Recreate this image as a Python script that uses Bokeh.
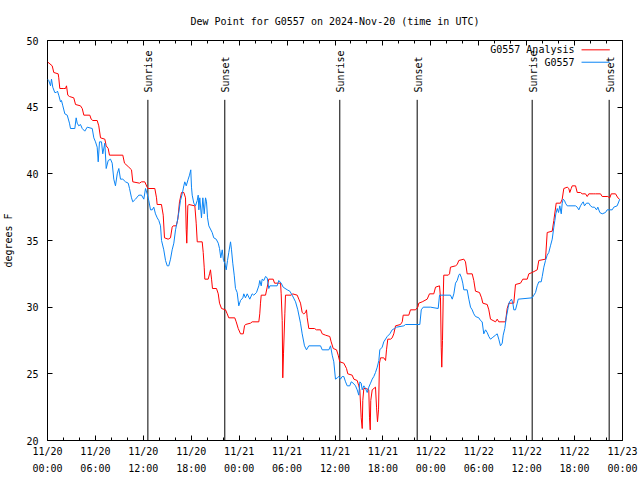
import math
from bokeh.plotting import figure
from bokeh.models import Range1d, FixedTicker, LinearAxis
from bokeh.core.properties import value
from bokeh.embed import file_html
from bokeh.resources import INLINE

# ---- data (hours since 2024-11-20 00:00 UTC, dew point in degrees F) ----
analysis_hours = [0, 0.59, 0.79, 1.34, 1.41, 1.54, 2.04, 2.25, 2.38, 2.54, 2.75, 3.29, 3.51, 4.13, 4.35, 4.55, 5.30, 5.47, 5.67, 6.22,
    6.42, 6.64, 7.18, 7.35, 7.60, 7.76, 9.43, 9.64, 10.18, 10.52, 10.68, 11.52, 11.77, 12.18, 12.48, 12.61, 13.44, 13.65, 13.73, 14.27,
    14.49, 14.65, 15.11, 15.40, 15.61, 15.74, 16.12, 16.32, 16.53, 16.78, 17.07, 17.28, 17.37, 17.44, 17.57, 17.69, 18.45, 18.62, 18.75, 19.37,
    19.50, 19.62, 19.70, 20.12, 20.29, 20.41, 20.54, 20.66, 21.16, 21.38, 21.54, 21.79, 22.29, 22.50, 22.70, 23.45, 23.63, 23.88, 24.17, 24.51,
    24.67, 24.79, 25.42, 25.63, 26.46, 26.58, 26.67, 26.76, 27.30, 27.51, 27.71, 28.26, 28.43, 29.18, 29.26, 29.39, 29.46, 29.55, 29.72, 29.80,
    30.52, 30.68, 31.27, 31.47, 31.68, 31.89, 32.09, 32.31, 32.43, 32.52, 32.72, 33.43, 33.68, 34.19, 34.40, 34.81, 35.35, 35.52, 35.78, 36.19,
    36.40, 36.60, 37.10, 37.44, 37.60, 38.15, 38.36, 38.78, 38.98, 39.11, 39.28, 39.41, 39.48, 39.61, 39.91, 40.23, 40.32, 40.41, 40.48, 40.66,
    41.07, 41.20, 41.32, 41.45, 41.57, 41.70, 42.11, 42.33, 42.45, 42.61, 42.95, 43.16, 43.36, 43.58, 44.20, 44.42, 44.54, 45.24, 45.45, 46.08,
    46.37, 46.49, 46.92, 47.54, 47.83, 48.37, 48.59, 49.09, 49.21, 49.30, 49.37, 49.46, 49.55, 49.62, 50.18, 50.34, 50.46, 51.09, 51.30, 51.50,
    52.13, 52.34, 52.55, 53.18, 53.38, 53.59, 54.09, 54.35, 54.51, 55.06, 55.26, 55.47, 56.10, 56.31, 56.51, 57.35, 57.56, 57.77, 58.39, 58.60,
    59.23, 59.52, 60.07, 60.27, 60.69, 61.32, 61.52, 62.36, 62.57, 63.20, 63.40, 63.70, 64.24, 64.45, 64.65, 65.08, 65.28, 65.40, 65.58, 65.70,
    66.12, 66.33, 66.74, 66.95, 67.37, 67.58, 67.78, 68.41, 68.62, 69.25, 69.46, 70.16, 70.41, 70.59, 71.13, 71.42, 71.63]
analysis_dewpt = [48.4, 48.1, 47.6, 47.5, 47.2, 46.4, 46.4, 46.4, 46.6, 45.9, 45.8, 45.7, 45.2, 45.1, 44.9, 44.4, 44.4, 44.1, 44.0, 44.0,
    43.6, 42.7, 42.6, 42.1, 41.9, 41.4, 41.4, 40.8, 40.5, 40.3, 39.4, 39.3, 39.4, 39.4, 39.0, 38.9, 38.9, 38.2, 37.7, 37.7,
    36.9, 35.2, 35.1, 35.2, 36.0, 36.1, 36.1, 36.6, 37.9, 38.6, 38.6, 38.2, 35.8, 34.8, 37.6, 37.7, 37.6, 36.3, 34.9, 34.9,
    34.1, 33.0, 32.1, 32.1, 32.5, 32.8, 32.1, 31.4, 31.4, 31.0, 30.3, 29.9, 29.8, 29.5, 29.2, 29.2, 28.9, 28.4, 28.0, 28.0,
    28.6, 28.7, 28.8, 28.9, 28.9, 29.5, 30.3, 30.9, 30.9, 31.5, 32.1, 32.1, 31.8, 31.8, 31.0, 29.0, 24.7, 26.5, 29.5, 30.9,
    30.9, 31.0, 30.9, 30.6, 30.3, 29.6, 29.5, 29.6, 29.8, 29.2, 28.4, 28.4, 28.3, 28.3, 28.0, 27.9, 27.8, 27.4, 26.9, 26.8,
    26.4, 25.9, 25.8, 25.4, 25.0, 24.9, 24.6, 24.5, 24.1, 23.8, 21.7, 20.9, 23.0, 23.9, 23.9, 23.8, 21.7, 20.8, 23.0, 23.8,
    24.0, 22.5, 21.4, 22.3, 25.8, 26.2, 26.2, 26.0, 26.8, 27.6, 27.6, 27.7, 28.0, 28.6, 28.7, 28.9, 29.4, 29.4, 29.8, 29.8,
    30.0, 30.3, 30.4, 30.6, 31.0, 31.0, 31.5, 31.6, 30.7, 27.0, 25.5, 27.5, 30.7, 32.4, 32.4, 32.5, 33.0, 33.1, 33.2, 33.5,
    33.6, 33.4, 32.5, 32.5, 32.0, 31.2, 31.1, 30.7, 30.3, 30.2, 29.8, 29.1, 28.9, 29.1, 28.9, 28.9, 29.9, 30.3, 30.3, 31.7,
    31.8, 32.1, 32.1, 32.5, 32.6, 32.8, 33.5, 33.6, 35.6, 35.7, 36.5, 37.8, 37.8, 38.1, 38.9, 39.0, 38.9, 38.6, 38.9, 39.1,
    39.1, 38.6, 38.6, 38.5, 38.5, 38.3, 38.5, 38.5, 38.5, 38.5, 38.3, 38.3, 38.2, 38.5, 38.5, 38.2, 38.1]

obs_hours = [0, 0.16, 0.38, 0.50, 0.66, 0.91, 1.09, 1.25, 1.41, 1.63, 1.75, 1.92, 2.17, 2.47, 2.75, 2.88, 3.42, 3.59, 3.72, 3.92,
    4.13, 4.35, 4.67, 4.97, 5.60, 5.80, 6.01, 6.22, 6.35, 6.51, 6.76, 6.92, 7.18, 7.35, 7.60, 7.89, 8.10, 8.30, 8.51, 8.73,
    8.93, 9.14, 9.43, 9.77, 10.11, 10.27, 10.52, 10.68, 11.02, 11.43, 11.77, 12.06, 12.27, 12.48, 12.68, 12.90, 13.11, 13.31, 13.52, 13.74,
    13.94, 14.15, 14.28, 14.56, 14.78, 14.99, 15.19, 15.40, 15.61, 15.82, 16.03, 16.24, 16.44, 16.65, 16.87, 17.07, 17.19, 17.37, 17.62, 17.78,
    17.94, 18.03, 18.12, 18.32, 18.53, 18.75, 18.87, 18.95, 19.07, 19.28, 19.45, 19.62, 19.79, 19.91, 20.04, 20.20, 20.62, 20.82, 21.12, 21.38,
    21.54, 21.70, 21.88, 22.04, 22.20, 22.38, 22.54, 22.70, 22.92, 23.04, 23.20, 23.38, 23.54, 23.75, 23.95, 24.17, 24.46, 24.58, 24.79, 25.01,
    25.33, 25.63, 25.83, 26.17, 26.46, 26.58, 26.76, 26.88, 27.09, 27.30, 27.51, 27.71, 27.84, 28.76, 28.96, 29.26, 29.51, 30.02, 30.34, 30.64,
    31.06, 31.34, 31.68, 31.89, 32.18, 32.43, 32.72, 34.19, 34.40, 35.23, 35.44, 35.65, 35.85, 36.06, 36.28, 36.48, 36.69, 36.90, 37.10, 37.32,
    37.53, 37.85, 38.03, 38.28, 38.57, 38.78, 38.98, 39.11, 39.28, 39.41, 39.61, 39.82, 40.03, 40.23, 40.45, 40.66, 40.86, 41.07, 41.29, 41.49,
    41.61, 41.91, 42.11, 42.54, 42.87, 43.16, 43.45, 43.70, 44.62, 44.83, 46.62, 46.80, 47.05, 47.96, 48.92, 49.09, 50.46, 50.68, 50.88, 51.09,
    51.30, 51.50, 51.63, 51.84, 52.00, 52.13, 52.55, 52.76, 52.97, 53.18, 53.38, 53.59, 54.01, 54.22, 54.43, 54.63, 54.85, 55.06, 55.26, 55.47,
    55.68, 56.10, 56.31, 56.51, 56.72, 56.94, 57.06, 57.26, 57.44, 57.69, 57.85, 58.10, 58.27, 58.39, 58.60, 58.82, 58.94, 60.69, 60.90, 61.11,
    61.32, 61.52, 61.82, 61.95, 62.15, 62.36, 62.57, 62.77, 62.98, 63.20, 63.40, 63.53, 63.65, 63.83, 63.99, 64.15, 64.33, 64.45, 64.58, 64.74,
    64.86, 65.08, 65.28, 66.12, 66.33, 66.53, 66.74, 66.95, 67.08, 67.24, 67.49, 67.78, 67.99, 68.21, 68.49, 68.75, 68.91, 69.16, 69.46, 69.87,
    70.08, 70.71, 70.91, 71.33, 71.66]
obs_dewpt = [47.1, 47.0, 46.6, 47.1, 46.5, 46.1, 46.1, 46.2, 45.9, 45.4, 45.5, 45.1, 44.5, 44.4, 43.8, 43.4, 43.4, 44.2, 43.8, 43.6,
    43.7, 43.4, 43.2, 43.5, 43.4, 42.7, 42.4, 42.0, 40.9, 42.4, 42.4, 41.5, 42.3, 40.4, 41.0, 41.1, 40.8, 39.6, 39.1, 40.0,
    40.4, 39.6, 39.6, 39.4, 39.3, 38.9, 38.2, 37.9, 38.1, 38.4, 38.4, 38.1, 38.9, 38.5, 38.0, 37.3, 37.3, 37.5, 37.0, 36.7,
    36.5, 36.1, 35.0, 34.3, 33.5, 33.1, 33.1, 33.6, 34.3, 34.8, 35.8, 36.4, 37.1, 38.0, 38.5, 39.1, 39.4, 39.1, 39.6, 39.9,
    40.3, 39.0, 38.4, 37.8, 37.6, 38.0, 38.4, 37.3, 38.2, 36.7, 38.2, 37.0, 38.2, 37.9, 36.7, 36.1, 35.6, 35.2, 35.1, 34.8,
    34.4, 33.7, 34.3, 33.5, 33.3, 32.8, 33.5, 34.1, 34.9, 34.3, 33.3, 32.4, 31.4, 31.1, 30.1, 30.5, 30.7, 31.0, 30.7, 31.0,
    30.6, 31.0, 30.9, 31.1, 31.6, 32.0, 31.6, 32.1, 32.0, 32.3, 32.2, 31.4, 31.6, 31.6, 32.0, 31.8, 31.5, 31.3, 31.2, 30.9,
    30.4, 29.8, 28.8, 28.0, 27.1, 26.8, 27.1, 27.1, 26.8, 26.8, 27.1, 26.4, 25.9, 24.6, 24.7, 24.8, 24.6, 24.8, 24.8, 24.4,
    24.1, 24.1, 24.4, 24.3, 24.1, 23.8, 23.4, 24.4, 24.3, 23.8, 24.1, 23.9, 23.6, 24.0, 24.3, 24.6, 24.8, 25.1, 25.5, 26.0,
    26.8, 27.0, 27.4, 27.8, 28.0, 28.3, 28.4, 28.5, 28.6, 28.7, 28.7, 29.8, 30.0, 30.0, 29.9, 30.9, 30.9, 30.6, 31.0, 31.8,
    32.0, 32.4, 32.5, 32.2, 31.8, 31.3, 31.3, 30.6, 30.0, 29.8, 29.5, 29.3, 29.2, 29.0, 28.9, 28.0, 28.3, 28.1, 27.8, 27.6,
    27.7, 27.9, 28.0, 27.6, 27.1, 27.3, 27.9, 28.4, 29.2, 30.0, 30.4, 30.6, 30.3, 29.8, 29.8, 30.3, 30.6, 30.7, 30.9, 31.1,
    31.6, 31.9, 31.9, 32.3, 33.0, 33.5, 33.9, 34.1, 34.6, 35.1, 36.0, 36.5, 37.0, 37.4, 37.1, 37.6, 37.0, 37.8, 38.1, 38.0,
    37.8, 37.6, 37.6, 37.6, 37.5, 37.3, 37.6, 37.8, 37.9, 37.6, 37.8, 37.8, 37.6, 37.5, 37.5, 37.3, 37.5, 37.1, 37.0, 37.1,
    37.3, 37.3, 37.5, 37.6, 38.1]

sun_hours = [12.57, 22.20, 36.60, 46.29, 60.69, 70.33]
sun_labels = ["Sunrise", "Sunset", "Sunrise", "Sunset", "Sunrise", "Sunset"]

x_ticks = [0, 6, 12, 18, 24, 30, 36, 42, 48, 54, 60, 66, 72]
x_tick_labels = ["11/20\n00:00", "11/20\n06:00", "11/20\n12:00", "11/20\n18:00",
                 "11/21\n00:00", "11/21\n06:00", "11/21\n12:00", "11/21\n18:00",
                 "11/22\n00:00", "11/22\n06:00", "11/22\n12:00", "11/22\n18:00",
                 "11/23\n00:00"]
x_minor_ticks = list(range(0, 73, 2))
y_ticks = [20, 25, 30, 35, 40, 45, 50]

title_text = "Dew Point for G0557 on 2024-Nov-20 (time in UTC)"
series_names = ["G0557 Analysis", "G0557"]
series_colors = ["#ff0000", "#0a84f5"]

FONT = "DejaVu Sans Mono"

p = figure(width=640, height=480, output_backend="svg", toolbar_location=None,
           x_range=Range1d(0, 72), y_range=Range1d(20, 50),
           min_border_left=47, min_border_right=18, min_border_top=40, min_border_bottom=40)
p.xgrid.visible = False
p.ygrid.visible = False
p.outline_line_color = "black"
p.outline_line_width = 1
p.outline_line_alpha = 1
p.background_fill_color = "white"
p.border_fill_color = "white"

xt = FixedTicker(ticks=x_ticks, minor_ticks=x_minor_ticks)
yt = FixedTicker(ticks=y_ticks, minor_ticks=[])

xa = p.xaxis[0]
xa.ticker = xt
xa.major_label_overrides = {t: l for t, l in zip(x_ticks, x_tick_labels)}
ya = p.yaxis[0]
ya.ticker = yt
ya.axis_label = "degrees F"

for ax in (xa, ya):
    ax.axis_line_color = None
    ax.major_tick_in = 5
    ax.major_tick_out = 0
    ax.minor_tick_in = 3
    ax.minor_tick_out = 0
    ax.major_tick_line_color = "black"
    ax.minor_tick_line_color = "black"
    ax.major_label_text_font = FONT
    ax.major_label_text_font_size = "10px"
    ax.major_label_text_color = "black"
    ax.axis_label_text_font = FONT
    ax.axis_label_text_font_size = "10px"
    ax.axis_label_text_font_style = "normal"
    ax.axis_label_text_color = "black"

xa.major_label_standoff = 5
xa.major_label_text_line_height = 1.55
ya.major_label_standoff = 9
ya.axis_label_standoff = 9

top = LinearAxis(ticker=xt)
right = LinearAxis(ticker=yt)
for ax in (top, right):
    ax.axis_line_color = None
    ax.major_tick_in = 5
    ax.major_tick_out = 0
    ax.minor_tick_in = 3
    ax.minor_tick_out = 0
    ax.major_label_text_font_size = "0px"
    ax.major_label_standoff = 0
    ax.major_label_text_alpha = 0

# the chart title is carried by the (label-less) top axis
top.axis_label = title_text
top.axis_label_text_font = FONT
top.axis_label_text_font_size = "10px"
top.axis_label_text_font_style = "normal"
top.axis_label_text_color = "black"
top.axis_label_standoff = 14

p.add_layout(top, "above")
p.add_layout(right, "right")

# sunrise / sunset markers
p.segment(x0=sun_hours, y0=[20] * len(sun_hours), x1=sun_hours, y1=[45.55] * len(sun_hours),
          line_color="black", line_width=1)
p.text(x=sun_hours, y=[46.1] * len(sun_hours), text=sun_labels, angle=math.pi / 2,
       text_align="left", text_baseline="middle", text_font=value(FONT),
       text_font_size="10px", text_color="black", x_offset=1)

# data lines
p.line(analysis_hours, analysis_dewpt, line_color=series_colors[0], line_width=1)
p.line(obs_hours, obs_dewpt, line_color=series_colors[1], line_width=1)

# gnuplot-style key: label then line sample
key_y = [49.3, 48.37]
p.text(x=[65.99, 65.99], y=key_y, text=series_names, text_align="right", text_baseline="middle",
       text_font=value(FONT), text_font_size="10px", text_color="black")
p.segment(x0=[66.87, 66.87], y0=key_y, x1=[70.41, 70.41], y1=key_y,
          line_color=series_colors, line_width=1)

open("out.html", "w").write(file_html(p, INLINE))
